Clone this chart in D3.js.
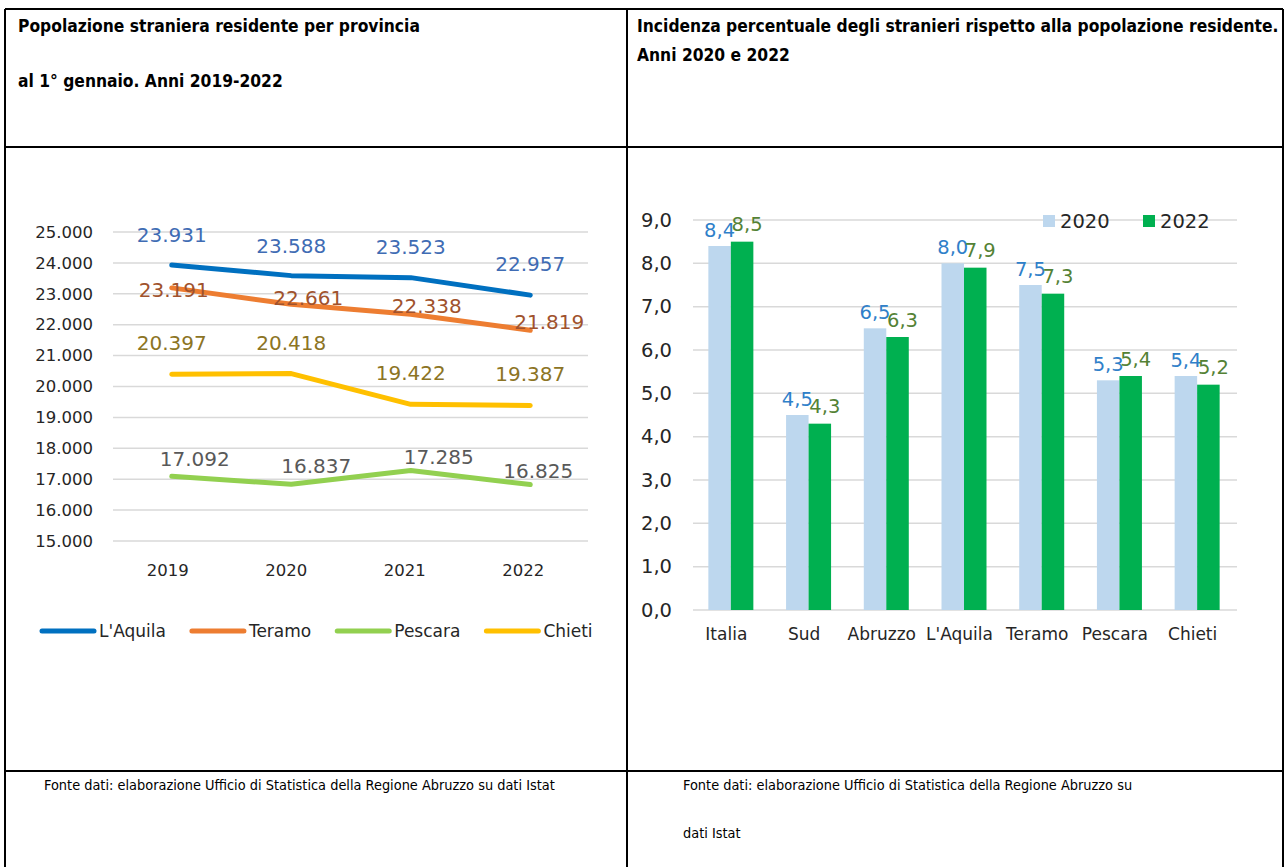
<!DOCTYPE html>
<html>
<head>
<meta charset="utf-8">
<title>Stranieri residenti - Abruzzo</title>
<script src="https://d3js.org/d3.v7.min.js"></script>
<style>
  body { margin: 0; background: #fff; }
  svg { display: block; }
  .head { font-family: "Liberation Sans Narrow", "DejaVu Sans Condensed", sans-serif; font-weight: bold; font-size: 17.3px; }
  .foot { font-family: "Liberation Sans Narrow", "DejaVu Sans Condensed", sans-serif; font-size: 14.4px; }
  .tick-lbl { font-family: "DejaVu Sans", sans-serif; font-size: 16.5px; fill: #262626; }
  .tick-r { font-size: 19.5px; }
  .cat-r, .leg { font-size: 17px; }
  .val { font-family: "DejaVu Sans", sans-serif; font-size: 20px; }
  .bar-val { font-family: "DejaVu Sans", sans-serif; font-size: 19.5px; }
</style>
</head>
<body>
<svg id="page" width="1285" height="867"></svg>
<script>
// ---- data: left chart (line) ----
const years = ["2019", "2020", "2021", "2022"];
const provinces = ["L'Aquila", "Teramo", "Pescara", "Chieti"];
const laquila = [23931, 23588, 23523, 22957];
const teramo = [23191, 22661, 22338, 21819];
const pescara = [17092, 16837, 17285, 16825];
const chieti = [20397, 20418, 19422, 19387];
const popTicks = [15000, 16000, 17000, 18000, 19000, 20000, 21000, 22000, 23000, 24000, 25000];

// ---- data: right chart (bars) ----
const areas = ["Italia", "Sud", "Abruzzo", "L'Aquila", "Teramo", "Pescara", "Chieti"];
const barYears = ["2020", "2022"];
const inc2020 = [8.4, 4.5, 6.5, 8.0, 7.5, 5.3, 5.4];
const inc2022 = [8.5, 4.3, 6.3, 7.9, 7.3, 5.4, 5.2];
const incTicks = [0, 1, 2, 3, 4, 5, 6, 7, 8, 9];

const it = d3.formatLocale({decimal: ",", thousands: ".", grouping: [3], currency: ["€", ""]});
const fmtInt = it.format(",.0f");
const fmt1 = it.format(".1f");

const svg = d3.select("#page");
svg.append("rect").attr("width", 1285).attr("height", 867).attr("fill", "#fff");

// ---- table frame ----
const frame = svg.append("g").attr("stroke", "#000").attr("stroke-width", 2);
[[5, 9, 1283, 9], [5, 147, 1283, 147], [5, 771, 1283, 771],
 [5, 9, 5, 867], [627, 9, 627, 867], [1283, 9, 1283, 867]].forEach(l => {
  frame.append("line").attr("x1", l[0]).attr("y1", l[1]).attr("x2", l[2]).attr("y2", l[3]);
});

// titles
svg.append("text").attr("class", "head").attr("x", 18).attr("y", 32).text("Popolazione straniera residente per provincia");
svg.append("text").attr("class", "head").attr("x", 18).attr("y", 87).text("al 1° gennaio. Anni 2019-2022");
svg.append("text").attr("class", "head").attr("x", 637).attr("y", 32).text("Incidenza percentuale degli stranieri rispetto alla popolazione residente.");
svg.append("text").attr("class", "head").attr("x", 637).attr("y", 61).text("Anni 2020 e 2022");

// footers
svg.append("text").attr("class", "foot").attr("x", 44).attr("y", 790).text("Fonte dati: elaborazione Ufficio di Statistica della Regione Abruzzo su dati Istat");
svg.append("text").attr("class", "foot").attr("x", 683).attr("y", 790).text("Fonte dati: elaborazione Ufficio di Statistica della Regione Abruzzo su");
svg.append("text").attr("class", "foot").attr("x", 683).attr("y", 838).text("dati Istat");

// ================= LEFT: line chart =================
// label offsets (px) from each point, as placed in the original
const lineSeries = [
  {name: provinces[0], values: laquila, color: "#0070C0", label: "#3F6CB4",
   off: [[0, -30], [0, -30], [0, -31], [0, -31]]},
  {name: provinces[1], values: teramo, color: "#ED7D31", label: "#A0522D",
   off: [[2, 2], [17, -6], [16, -8], [19, -8]]},
  {name: provinces[2], values: pescara, color: "#92D050", label: "#595959",
   off: [[23, -17], [25, -18], [28, -13], [8, -14]]},
  {name: provinces[3], values: chieti, color: "#FFC000", label: "#8C7424",
   off: [[0, -31], [0, -31], [0, -31], [0, -31]]}
];

const xL = d3.scaleBand().domain(years).range([112, 590]);
const yL = d3.scaleLinear().domain([15000, 25000]).range([541, 232]);
const cx = d => xL(d) + xL.bandwidth() / 2;

const gL = svg.append("g");
gL.selectAll("line.grid").data(popTicks).join("line")
  .attr("class", "grid")
  .attr("x1", 113).attr("x2", 588)
  .attr("y1", d => yL(d)).attr("y2", d => yL(d))
  .attr("stroke", "#D9D9D9").attr("stroke-width", 1.5);

gL.selectAll("text.ytick").data(popTicks).join("text")
  .attr("class", "tick-lbl ytick")
  .attr("x", 93).attr("y", d => yL(d)).attr("dy", "0.35em")
  .attr("text-anchor", "end")
  .text(d => fmtInt(d));

gL.selectAll("text.xtick").data(years).join("text")
  .attr("class", "tick-lbl xtick")
  .attr("x", (d, i) => cx(d) - 4 - i).attr("y", 576)
  .attr("text-anchor", "middle")
  .text(d => d);

const line = d3.line().x((d, i) => cx(years[i])).y(d => yL(d));

gL.selectAll("path.series").data(lineSeries).join("path")
  .attr("class", "series")
  .attr("d", d => line(d.values))
  .attr("fill", "none")
  .attr("stroke", d => d.color)
  .attr("stroke-width", 5)
  .attr("stroke-linejoin", "round")
  .attr("stroke-linecap", "round");

lineSeries.forEach(s => {
  gL.selectAll(null).data(s.values).join("text")
    .attr("class", "val")
    .attr("x", (d, i) => cx(years[i]) + s.off[i][0])
    .attr("y", (d, i) => yL(d) + s.off[i][1])
    .attr("dy", "0.35em")
    .attr("text-anchor", "middle")
    .attr("fill", s.label)
    .text(d => fmtInt(d));
});

// legend left
let lx = 42;
const legL = svg.append("g");
lineSeries.forEach(s => {
  legL.append("line").attr("x1", lx).attr("x2", lx + 52).attr("y1", 631).attr("y2", 631)
    .attr("stroke", s.color).attr("stroke-width", 5).attr("stroke-linecap", "round");
  const t = legL.append("text").attr("class", "tick-lbl leg").attr("x", lx + 57).attr("y", 631)
    .attr("dy", "0.35em").text(s.name);
  lx += 57 + t.node().getComputedTextLength() + 26;
});

// ================= RIGHT: grouped bars =================
const barSeries = [
  {year: barYears[0], values: inc2020, color: "#BDD7EE", label: "#2F80C9", dx: 0, dy: 16},
  {year: barYears[1], values: inc2022, color: "#00B050", label: "#548235", dx: 5, dy: 17}
];

const x0 = d3.scaleBand().domain(areas).range([692, 1236]);
const x1 = d3.scaleBand().domain(barYears)
  .range([x0.bandwidth() / 2 - 22.5, x0.bandwidth() / 2 + 22.5]);
const yR = d3.scaleLinear().domain([0, 9]).range([610, 220]);

const gR = svg.append("g");
gR.selectAll("line.grid").data(incTicks).join("line")
  .attr("class", "grid")
  .attr("x1", 693).attr("x2", 1237)
  .attr("y1", d => yR(d)).attr("y2", d => yR(d))
  .attr("stroke", "#D9D9D9").attr("stroke-width", 1.5);

gR.selectAll("text.ytick").data(incTicks).join("text")
  .attr("class", "tick-lbl tick-r ytick")
  .attr("x", 672).attr("y", d => yR(d)).attr("dy", "0.35em")
  .attr("text-anchor", "end")
  .text(d => fmt1(d));

gR.selectAll("text.xtick").data(areas).join("text")
  .attr("class", "tick-lbl cat-r xtick")
  .attr("x", d => x0(d) + x0.bandwidth() / 2 - 4.5).attr("y", 640)
  .attr("text-anchor", "middle")
  .text(d => d);

barSeries.forEach(s => {
  gR.selectAll(null).data(s.values).join("rect")
    .attr("x", (d, i) => x0(areas[i]) + x1(s.year))
    .attr("y", d => yR(d))
    .attr("width", x1.bandwidth())
    .attr("height", d => yR(0) - yR(d))
    .attr("fill", s.color);
});
barSeries.forEach(s => {
  gR.selectAll(null).data(s.values).join("text")
    .attr("class", "bar-val")
    .attr("x", (d, i) => x0(areas[i]) + x1(s.year) + x1.bandwidth() / 2 + s.dx)
    .attr("y", d => yR(d) - s.dy)
    .attr("dy", "0.35em")
    .attr("text-anchor", "middle")
    .attr("fill", s.label)
    .text(d => fmt1(d));
});

// legend right
let rx = 1043;
const legR = svg.append("g");
barSeries.forEach(s => {
  legR.append("rect").attr("x", rx).attr("y", 215).attr("width", 12).attr("height", 12).attr("fill", s.color);
  legR.append("text").attr("class", "tick-lbl tick-r").attr("x", rx + 17).attr("y", 221)
    .attr("dy", "0.35em").text(s.year);
  rx += 100;
});
</script>
</body>
</html>
